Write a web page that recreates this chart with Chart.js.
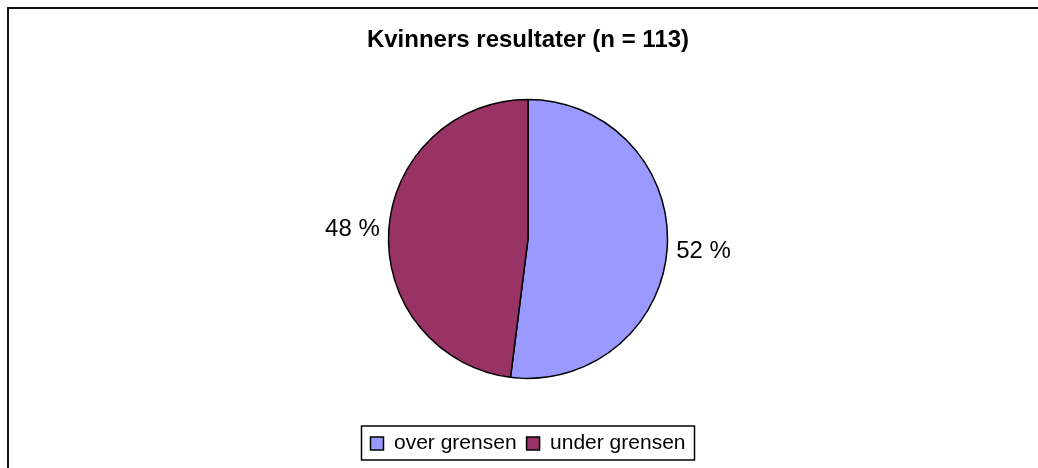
<!DOCTYPE html>
<html>
<head>
<meta charset="utf-8">
<script src="https://cdn.jsdelivr.net/npm/chart.js@4"></script>
<style>
  html, body { margin: 0; padding: 0; background: #fff; overflow: hidden; }
  #wrap { position: relative; width: 1038px; height: 468px; }
  #frame { position: absolute; left: 7px; top: 7px; width: 1100px; height: 600px;
           border-left: 2px solid #111; border-top: 2px solid #111; pointer-events: none; }
</style>
</head>
<body>
<div id="wrap">
  <canvas id="pie" width="1038" height="468"></canvas>
  <div id="frame"></div>
</div>
<script>
// data
const categories = ['over grensen', 'under grensen'];
const values = [52, 48];
const sliceColors = ['#9999FF', '#993366'];
const chartTitle = 'Kvinners resultater (n = 113)';

Chart.defaults.font.family = "'Liberation Sans', Arial, sans-serif";
Chart.defaults.color = '#000';

// prosent-etiketter utenfor sektorene
const outsideLabels = {
  id: 'outsideLabels',
  afterDatasetsDraw(chart) {
    const ctx = chart.ctx;
    const meta = chart.getDatasetMeta(0);
    ctx.save();
    ctx.font = "24px 'Liberation Sans', Arial, sans-serif";
    ctx.fillStyle = '#000';
    ctx.textBaseline = 'middle';
    meta.data.forEach((arc, i) => {
      const p = arc.getProps(['x', 'y', 'startAngle', 'endAngle', 'outerRadius'], true);
      const mid = (p.startAngle + p.endAngle) / 2;
      const r = p.outerRadius + 9;
      const x = p.x + Math.cos(mid) * r;
      const y = p.y + Math.sin(mid) * r + (Math.cos(mid) >= 0 ? 3 : 0);
      ctx.textAlign = Math.cos(mid) >= 0 ? 'left' : 'right';
      ctx.fillText(values[i] + ' %', x, y);
    });
    ctx.restore();
  }
};

// ramme rundt forklaringen
const legendFrame = {
  id: 'legendFrame',
  afterDraw(chart) {
    const boxes = chart.legend.legendHitBoxes;
    if (!boxes || !boxes.length) return;
    const first = boxes[0];
    const last = boxes[boxes.length - 1];
    const ctx = chart.ctx;
    ctx.save();
    ctx.strokeStyle = '#000';
    ctx.lineWidth = 1.5;
    ctx.strokeRect(first.left - 9, first.top - 7, last.left + last.width + 9 - (first.left - 9), first.height + 13);
    ctx.restore();
  }
};

new Chart(document.getElementById('pie'), {
  type: 'pie',
  data: {
    labels: categories,
    datasets: [{
      data: values,
      backgroundColor: sliceColors,
      borderColor: '#000',
      borderWidth: 1.5
    }]
  },
  options: {
    responsive: false,
    animation: false,
    radius: 139.5,
    layout: { padding: { left: 18, bottom: 4 } },
    plugins: {
      title: {
        display: true,
        text: chartTitle,
        font: { size: 24, weight: 'bold' },
        padding: { top: 26, bottom: 0 }
      },
      legend: {
        position: 'bottom',
        labels: {
          boxWidth: 13,
          boxHeight: 13,
          padding: 10,
          font: { size: 21 }
        }
      },
      tooltip: { enabled: false }
    }
  },
  plugins: [outsideLabels, legendFrame]
});
</script>
</body>
</html>
